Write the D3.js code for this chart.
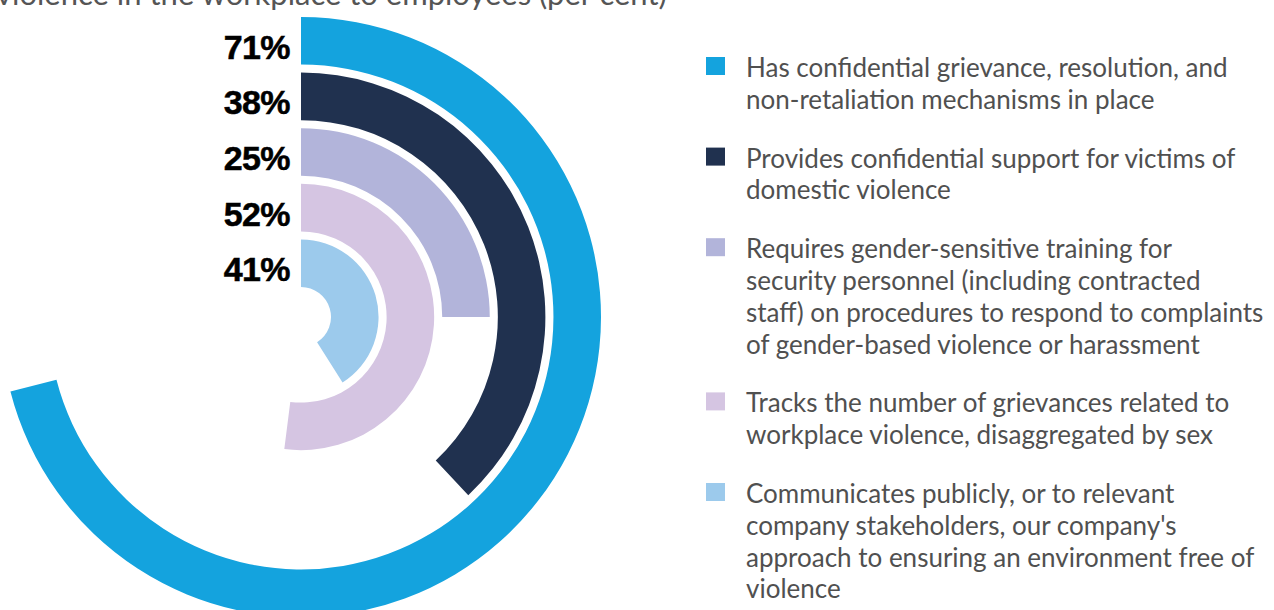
<!DOCTYPE html>
<html><head><meta charset="utf-8">
<script src="https://cdn.jsdelivr.net/npm/d3@7"></script>
<style>
html,body{margin:0;padding:0;background:#fff;overflow:hidden}
svg{display:block}
</style></head>
<body>
<svg id="chart" width="1274" height="610"></svg>
<script>
const titleText = "violence in the workplace to employees (per cent)";
const categories = [
  "Has confidential grievance, resolution, and non-retaliation mechanisms in place",
  "Provides confidential support for victims of domestic violence",
  "Requires gender-sensitive training for security personnel (including contracted staff) on procedures to respond to complaints of gender-based violence or harassment",
  "Tracks the number of grievances related to workplace violence, disaggregated by sex",
  "Communicates publicly, or to relevant company stakeholders, our company's approach to ensuring an environment free of violence"
];
const legendLines = [
  ["Has confidential grievance, resolution, and", "non-retaliation mechanisms in place"],
  ["Provides confidential support for victims of", "domestic violence"],
  ["Requires gender-sensitive training for", "security personnel (including contracted", "staff) on procedures to respond to complaints", "of gender-based violence or harassment"],
  ["Tracks the number of grievances related to", "workplace violence, disaggregated by sex"],
  ["Communicates publicly, or to relevant", "company stakeholders, our company's", "approach to ensuring an environment free of", "violence"]
];
const values = [71, 38, 25, 52, 41];
const colors = ["#14a3de", "#20314f", "#b2b4da", "#d5c5e2", "#9ccaec"];

const svg = d3.select("#chart");
const cx = 301, cy = 317;

// title (clipped at top in the reference)
svg.append("text").attr("x", -4).attr("y", 5)
  .attr("font-family", "Lato, 'Open Sans', sans-serif").attr("font-size", 31)
  .attr("fill", "#555").text(titleText);

const angle = d3.scaleLinear().domain([0, 100]).range([0, 2 * Math.PI]);
const radius = d3.scaleBand().domain(d3.range(values.length).reverse())
  .range([30, 300]).paddingInner(0.145).paddingOuter(0);

const arc = d3.arc()
  .innerRadius(i => radius(i))
  .outerRadius(i => radius(i) + radius.bandwidth())
  .startAngle(0)
  .endAngle(i => angle(values[i]));

const g = svg.append("g").attr("transform", `translate(${cx},${cy})`);
g.selectAll("path.bar").data(d3.range(values.length)).join("path")
  .attr("class", "bar").attr("d", arc).attr("fill", i => colors[i]);

g.selectAll("text.val").data(d3.range(values.length)).join("text")
  .attr("class", "val")
  .attr("x", -11)
  .attr("y", i => -(radius(i) + radius.bandwidth() / 2) + 18)
  .attr("text-anchor", "end")
  .attr("font-family", "'Liberation Sans', Arial, sans-serif")
  .attr("font-weight", "bold").attr("font-size", 34)
  .attr("letter-spacing", -0.6)
  .attr("stroke", "#000").attr("stroke-width", 0.5)
  .attr("fill", "#000")
  .text(i => values[i] + "%");

// legend
const lineH = 31.8;
const groupGap = 27;
const legend = svg.append("g");
let y = 77;
legendLines.forEach((lines, i) => {
  legend.append("rect").attr("x", 706).attr("y", y - 20).attr("width", 19).attr("height", 18)
    .attr("fill", colors[i]);
  const t = legend.append("text").attr("font-family", "Lato, 'Open Sans', sans-serif")
    .attr("font-size", 26).attr("fill", "#505050");
  lines.forEach((ln, j) => {
    t.append("tspan").attr("x", 746).attr("y", y + j * lineH).text(ln);
  });
  y += lines.length * lineH + groupGap;
});
</script>
</body></html>
